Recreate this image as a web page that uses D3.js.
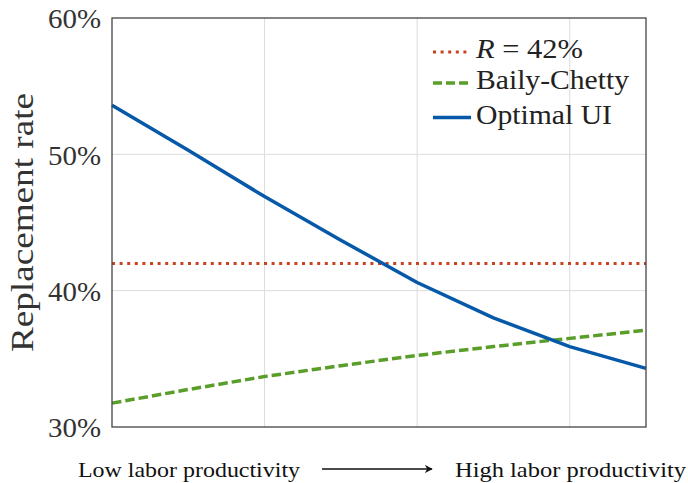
<!DOCTYPE html>
<html><head><meta charset="utf-8">
<script src="https://cdn.jsdelivr.net/npm/d3@7"></script>
<style>body{margin:0;background:#fff}svg{display:block}</style>
</head><body>
<svg id="c" width="688" height="483"></svg>
<script>
const xs = [0, 0.5, 1, 1.5, 2, 2.5, 3, 3.5];
const optimalUI = [53.6, 50.3, 46.9, 43.7, 40.6, 38.0, 35.9, 34.3];
const bailyChetty = [31.75, 32.75, 33.7, 34.5, 35.25, 35.9, 36.5, 37.1];
const fixedR = 42;
const yTicks = [30, 40, 50, 60];
const xGrid = [1, 2, 3];
const legendLabels = ["R = 42%", "Baily-Chetty", "Optimal UI"];

const svg = d3.select("#c");
const m = {l:112, r:646, t:18, b:427};
const x = d3.scaleLinear().domain([0,3.5]).range([m.l,m.r]);
const y = d3.scaleLinear().domain([30,60]).range([m.b,m.t]);
const serif = '"Liberation Serif", "Times New Roman", Times';

// grid
svg.append("g").selectAll("line").data(xGrid).join("line")
  .attr("x1",d=>x(d)).attr("x2",d=>x(d)).attr("y1",m.t).attr("y2",m.b)
  .attr("stroke","#dcdcdc").attr("stroke-width",1);
svg.append("g").selectAll("line").data(yTicks.slice(1,-1)).join("line")
  .attr("x1",m.l).attr("x2",m.r).attr("y1",d=>y(d)).attr("y2",d=>y(d))
  .attr("stroke","#dcdcdc").attr("stroke-width",1);

// y axis labels
const yAxis = d3.axisLeft(y).tickValues(yTicks).tickSize(0).tickPadding(11).tickFormat(d=>d+"%");
const ga = svg.append("g").attr("transform",`translate(${m.l},0)`).call(yAxis);
ga.attr("font-family",null).attr("font-size",null).style("font-family",serif).style("font-size","28px");
ga.select(".domain").remove();
ga.selectAll("text").style("font-family",serif).style("font-size","28px")
  .attr("fill","#333").attr("dy","0.35em").attr("textLength",53).attr("lengthAdjust","spacingAndGlyphs");

// lines
const line = d3.line().x((d,i)=>x(xs[i])).y(d=>y(d));
svg.append("path").datum(xs.map(()=>fixedR)).attr("d",line).attr("fill","none")
  .attr("stroke","#c8421e").attr("stroke-width",3).attr("stroke-dasharray","3,4.6");
svg.append("path").datum(bailyChetty).attr("d",line).attr("fill","none")
  .attr("stroke","#5a9e2a").attr("stroke-width",3.5).attr("stroke-dasharray","9.5,4");
svg.append("path").datum(optimalUI).attr("d",line).attr("fill","none")
  .attr("stroke","#0659a8").attr("stroke-width",3.5).attr("stroke-linejoin","round");

// frame
svg.append("rect").attr("x",m.l).attr("y",m.t).attr("width",m.r-m.l).attr("height",m.b-m.t)
  .attr("fill","none").attr("stroke","#444").attr("stroke-width",1.3);

// legend
const leg = [
  {c:"#c8421e", dash:"3,4.6", w:3},
  {c:"#5a9e2a", dash:"9,4", w:3.5},
  {c:"#0659a8", dash:null, w:3.5}
];
const ly = [52, 83, 117.5];
const lw = [107, 153, 136];
leg.forEach((l,i)=>{
  svg.append("line").attr("x1",433).attr("x2",471).attr("y1",ly[i]).attr("y2",ly[i])
    .attr("stroke",l.c).attr("stroke-width",l.w).attr("stroke-dasharray",l.dash);
});
const t0 = svg.append("text").attr("x",476).attr("y",ly[0]+5.5).style("font-family",serif).style("font-size","27px").attr("fill","#222")
  .attr("textLength",lw[0]).attr("lengthAdjust","spacingAndGlyphs");
t0.append("tspan").style("font-style","italic").text(legendLabels[0].slice(0,1));
t0.append("tspan").text(legendLabels[0].slice(1));
[1,2].forEach(i=>{
  svg.append("text").attr("x",476).attr("y",ly[i]+6).style("font-family",serif).style("font-size","27px").attr("fill","#222")
    .attr("textLength",lw[i]).attr("lengthAdjust","spacingAndGlyphs").text(legendLabels[i]);
});

// y label
svg.append("text").attr("transform",`translate(33,222.5) rotate(-90)`)
  .attr("text-anchor","middle").style("font-family",serif).style("font-size","31px").attr("fill","#333")
  .attr("textLength",259).attr("lengthAdjust","spacingAndGlyphs")
  .text("Replacement rate");

// bottom annotation
svg.append("text").attr("x",78).attr("y",477).style("font-family",serif).style("font-size","21px").attr("fill","#111")
  .attr("textLength",222).attr("lengthAdjust","spacingAndGlyphs").text("Low labor productivity");
svg.append("text").attr("x",455).attr("y",477).style("font-family",serif).style("font-size","21px").attr("fill","#111")
  .attr("textLength",231).attr("lengthAdjust","spacingAndGlyphs").text("High labor productivity");
svg.append("defs").append("marker").attr("id","ah").attr("viewBox","0 0 10 10").attr("refX",9).attr("refY",5)
  .attr("markerWidth",8).attr("markerHeight",8).attr("markerUnits","userSpaceOnUse").attr("orient","auto")
  .append("path").attr("d","M0,0 L10,5 L0,10 L3,5 Z").attr("fill","#111");
svg.append("line").attr("x1",322).attr("x2",432).attr("y1",469).attr("y2",469)
  .attr("stroke","#111").attr("stroke-width",1.5).attr("marker-end","url(#ah)");
</script>
</body></html>
